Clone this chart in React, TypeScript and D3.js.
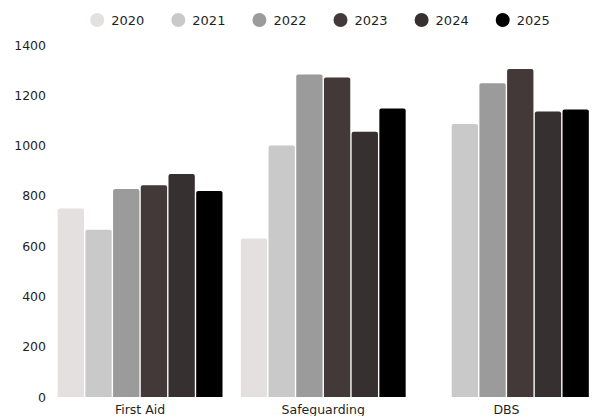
import React, { useEffect, useRef } from "react";
import * as d3 from "d3";

const categories = ["First Aid", "Safeguarding", "DBS"];
const years = ["2020", "2021", "2022", "2023", "2024", "2025"];
const colors = ["#e3e0df", "#c9c9c9", "#9b9b9b", "#433938", "#373031", "#000000"];

const values2020 = [750, 630, null];
const values2021 = [665, 1000, 1086];
const values2022 = [827, 1283, 1248];
const values2023 = [842, 1271, 1305];
const values2024 = [887, 1055, 1136];
const values2025 = [819, 1147, 1143];
const series = [values2020, values2021, values2022, values2023, values2024, values2025];

const yTicks = [0, 200, 400, 600, 800, 1000, 1200, 1400];

const W = 599;
const H = 416;
const FONT = "'DejaVu Sans', sans-serif";

function topRoundedRect(x: number, y: number, w: number, h: number, r: number) {
  const rr = Math.min(r, h / 2, w / 2);
  const p = d3.path();
  p.moveTo(x, y + h);
  p.lineTo(x, y + rr);
  p.quadraticCurveTo(x, y, x + rr, y);
  p.lineTo(x + w - rr, y);
  p.quadraticCurveTo(x + w, y, x + w, y + rr);
  p.lineTo(x + w, y + h);
  p.closePath();
  return p.toString();
}

export default function App() {
  const ref = useRef<SVGSVGElement>(null);

  useEffect(() => {
    const svg = d3.select(ref.current);
    svg.selectAll("*").remove();

    const x0 = d3.scaleBand<string>().domain(categories).range([48.5, 598]).paddingInner(0.1).paddingOuter(0.05);
    const x1 = d3.scaleBand<string>().domain(years).range([0, x0.bandwidth()]).paddingInner(0.05);
    const y = d3.scaleLinear().domain([0, 1400]).range([397, 45]);

    // y-axis labels
    svg
      .append("g")
      .selectAll("text")
      .data(yTicks)
      .join("text")
      .attr("x", 46)
      .attr("y", (d) => y(d))
      .attr("dy", "0.36em")
      .attr("text-anchor", "end")
      .attr("font-family", FONT)
      .attr("font-size", 12.5)
      .attr("font-weight", 500)
      .attr("fill", "#1f1f1f")
      .text((d) => d);

    // bars
    const groups = svg
      .append("g")
      .selectAll("g")
      .data(categories)
      .join("g")
      .attr("transform", (c) => `translate(${x0(c)},0)`);

    groups
      .selectAll("path")
      .data((c, ci) =>
        years
          .map((yr, si) => ({ yr, v: series[si][categories.indexOf(c)], color: colors[si] }))
          .filter((d) => d.v != null)
      )
      .join("path")
      .attr("d", (d) => topRoundedRect(x1(d.yr)!, y(d.v as number), x1.bandwidth(), y(0) - y(d.v as number), 2))
      .attr("fill", (d) => d.color);

    // category labels
    svg
      .append("g")
      .selectAll("text")
      .data(categories)
      .join("text")
      .attr("x", (c) => x0(c)! + x0.bandwidth() / 2)
      .attr("y", 409)
      .attr("dy", "0.36em")
      .attr("text-anchor", "middle")
      .attr("font-family", FONT)
      .attr("font-size", 12.5)
      .attr("font-weight", 500)
      .attr("fill", "#1f1f1f")
      .text((c) => c);

    // legend
    const legend = svg.append("g");
    const items = legend
      .selectAll("g")
      .data(years)
      .join("g");
    items
      .append("circle")
      .attr("r", 7)
      .attr("cx", 7)
      .attr("cy", 20)
      .attr("fill", (_, i) => colors[i]);
    const texts = items
      .append("text")
      .attr("x", 21)
      .attr("y", 20)
      .attr("dy", "0.36em")
      .attr("font-family", FONT)
      .attr("font-size", 13)
      .attr("font-weight", 500)
      .attr("fill", "#1f1f1f")
      .text((d) => d);
    let cursor = 0;
    const gap = 27;
    items.each(function (_, i) {
      const tw = (texts.nodes()[i] as SVGTextElement).getComputedTextLength();
      d3.select(this).attr("transform", `translate(${cursor},0)`);
      cursor += 21 + tw + gap;
    });
    const total = cursor - gap;
    legend.attr("transform", `translate(${320 - total / 2},0)`);
  }, []);

  return (
    <svg ref={ref} width={W} height={H} style={{ display: "block", position: "absolute", left: 0, top: 0 }} />
  );
}
